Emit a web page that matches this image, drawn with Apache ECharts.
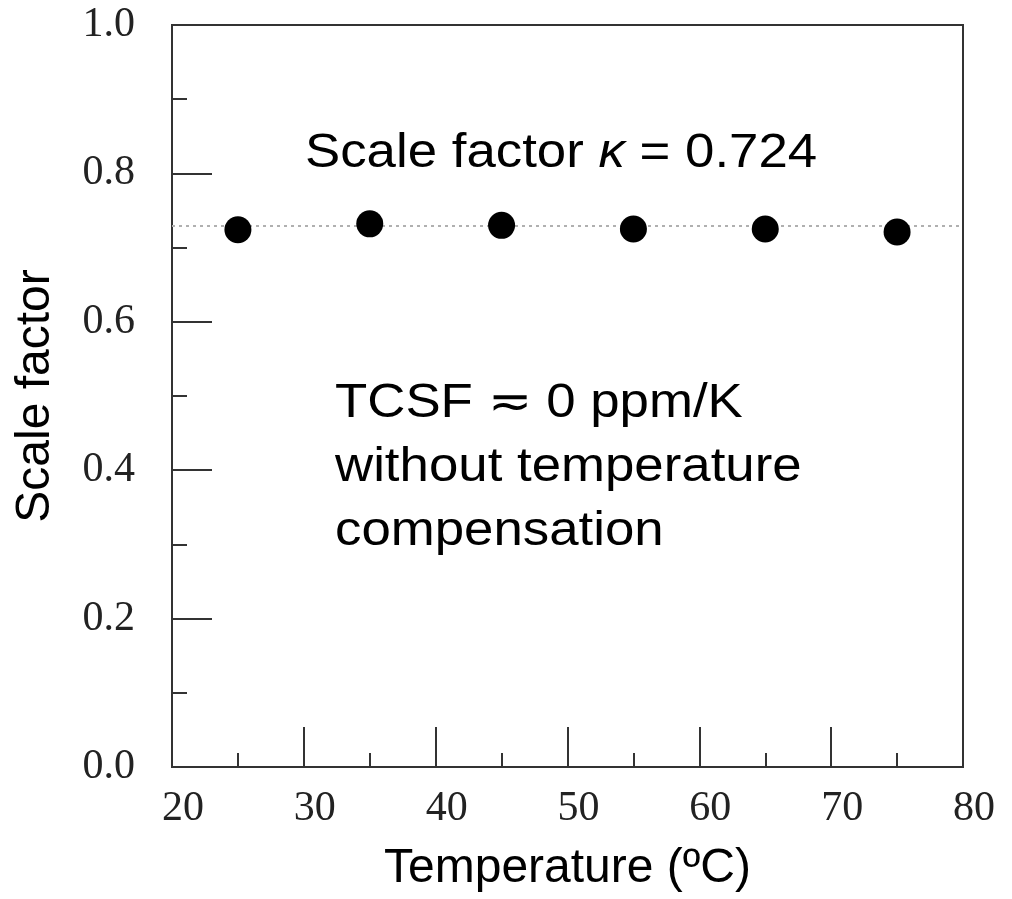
<!DOCTYPE html>
<html>
<head>
<meta charset="utf-8">
<script src="https://cdn.jsdelivr.net/npm/echarts@6/dist/echarts.min.js"></script>
<style>
  html, body { margin: 0; padding: 0; background: #fff; }
  #chart { width: 1012px; height: 899px; }
</style>
</head>
<body>
<div id="chart"></div>
<script>
// data
const temperatures = [25, 35, 45, 55, 65, 75]
const scaleFactors = [0.724, 0.732, 0.730, 0.725, 0.725, 0.721]
const fitLevel = 0.726

const chart = echarts.init(document.getElementById('chart'))

const axisColor = '#333'

const option = {
  animation: false,
  grid: {
    left: 172,
    right: 49,
    top: 25,
    bottom: 132,
    show: true,
    borderColor: axisColor,
    borderWidth: 2
  },
  xAxis: {
    type: 'value',
    min: 20,
    max: 80,
    interval: 10,
    name: 'Temperature (ºC)',
    nameLocation: 'middle',
    nameGap: 78,
    nameTextStyle: { fontFamily: 'Liberation Sans', fontSize: 48, color: '#000' },
    axisLine: { lineStyle: { color: axisColor, width: 2 } },
    axisTick: { inside: true, length: 40, lineStyle: { color: axisColor, width: 2 } },
    minorTick: { show: true, splitNumber: 2, length: 14, lineStyle: { color: axisColor, width: 2 } },
    splitLine: { show: false },
    axisLabel: {
      margin: 21,
      padding: [0, 0, 0, 22],
      fontFamily: 'Liberation Serif',
      fontSize: 42,
      color: '#222'
    }
  },
  yAxis: {
    type: 'value',
    min: 0,
    max: 1,
    interval: 0.2,
    name: 'Scale factor',
    nameLocation: 'middle',
    nameGap: 112,
    nameTextStyle: { fontFamily: 'Liberation Sans', fontSize: 48, color: '#000' },
    axisLine: { lineStyle: { color: axisColor, width: 2 } },
    axisTick: { inside: true, length: 40, lineStyle: { color: axisColor, width: 2 } },
    minorTick: { show: true, splitNumber: 2, length: 15, lineStyle: { color: axisColor, width: 2 } },
    splitLine: { show: false },
    axisLabel: {
      margin: 37,
      fontFamily: 'Liberation Serif',
      fontSize: 42,
      color: '#222',
      formatter: v => v.toFixed(1)
    }
  },
  series: [
    {
      // dotted mean level, kept under the points
      type: 'scatter',
      data: [],
      z: 1,
      markLine: {
        silent: true,
        symbol: 'none',
        label: { show: false },
        lineStyle: { color: '#b0b0b0', type: [3, 4], width: 2 },
        data: [{ yAxis: fitLevel }]
      }
    },
    {
      type: 'scatter',
      data: temperatures.map((t, i) => [t, scaleFactors[i]]),
      symbolSize: 27,
      itemStyle: { color: '#000', opacity: 1 },
      z: 5
    }
  ],
  // annotation texts, slightly widened like the source figure
  graphic: [
    {
      type: 'text',
      x: 305,
      y: 154,
      scaleX: 1.1,
      style: {
        text: 'Scale factor {i|κ} = 0.724',
        fontFamily: 'Liberation Sans',
        fontSize: 48,
        fill: '#000',
        verticalAlign: 'middle',
        rich: {
          i: { fontFamily: 'Liberation Sans', fontSize: 48, fontStyle: 'italic', fill: '#000' }
        }
      }
    },
    {
      type: 'text',
      x: 335,
      y: 372,
      scaleX: 1.1,
      style: {
        text: 'TCSF ≂ 0 ppm/K\nwithout temperature\ncompensation',
        fontFamily: 'Liberation Sans',
        fontSize: 48,
        lineHeight: 64,
        fill: '#000'
      }
    }
  ]
}

chart.setOption(option)
window.addEventListener('resize', () => chart.resize())
</script>
</body>
</html>
